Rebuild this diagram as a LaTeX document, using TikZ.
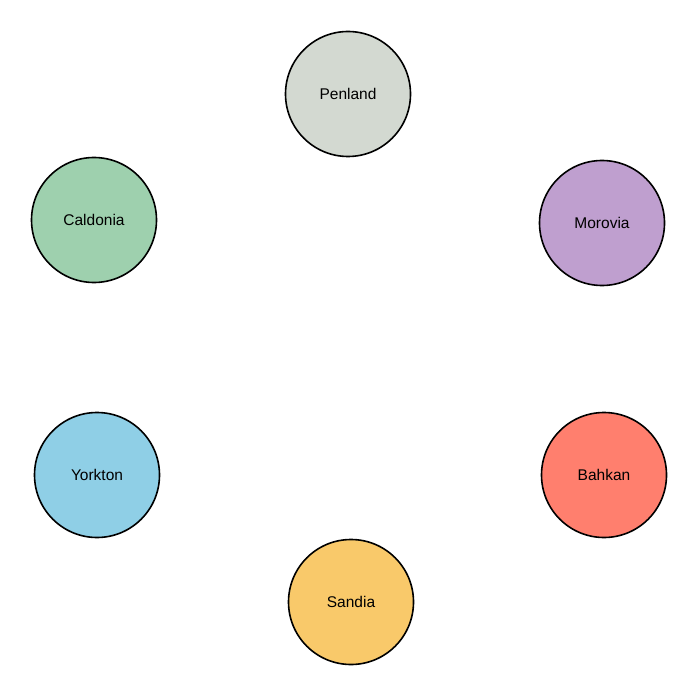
\documentclass[tikz,border=0pt]{standalone}
\usepackage{fontspec}
\setmainfont{Liberation Sans}
\definecolor{cpen}{HTML}{D3D9D1}
\definecolor{cmor}{HTML}{BF9FCF}
\definecolor{cbah}{HTML}{FF7F6E}
\definecolor{csan}{HTML}{F9C96A}
\definecolor{cyor}{HTML}{8FCFE6}
\definecolor{ccal}{HTML}{9ED0AE}
\begin{document}
\begin{tikzpicture}[x=1pt,y=-1pt,
  city/.style={circle,draw=black,line width=1.6pt,minimum size=125pt,inner sep=0pt,font=\fontsize{15.5}{18}\selectfont}]
\useasboundingbox (0,0) rectangle (700,700);
\node[city,fill=cpen] (pen) at (348,94) {Penland};
\node[city,fill=cmor] (mor) at (602,223) {Morovia};
\node[city,fill=cbah] (bah) at (604,475) {Bahkan};
\node[city,fill=csan] (san) at (351,602) {Sandia};
\node[city,fill=cyor] (yor) at (97,475) {Yorkton};
\node[city,fill=ccal] (cal) at (94,220) {Caldonia};
\end{tikzpicture}
\end{document}
